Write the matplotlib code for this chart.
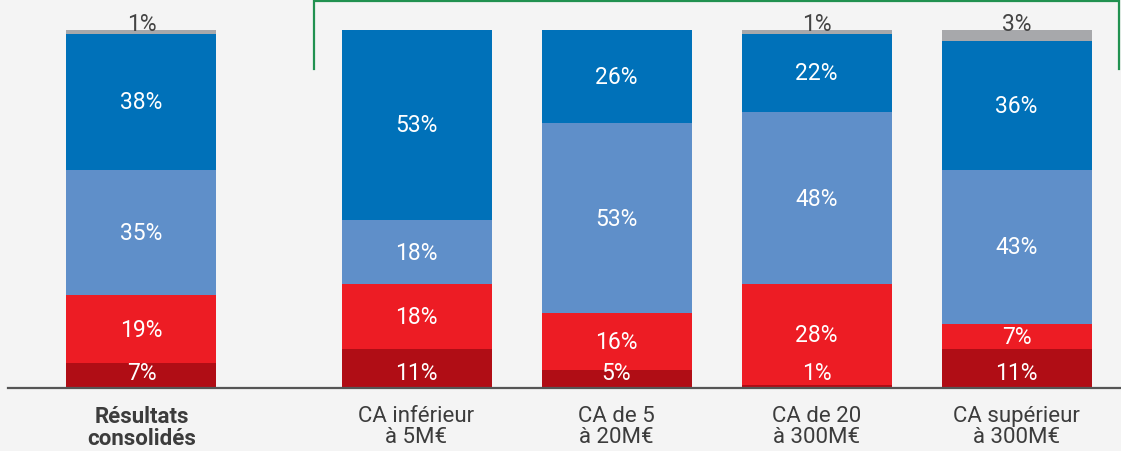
import matplotlib
matplotlib.use("Agg")
import matplotlib.pyplot as plt
import numpy as np

categories = ["Résultats\nconsolidés", "CA inférieur\nà 5M€", "CA de 5\nà 20M€",
              "CA de 20\nà 300M€", "CA supérieur\nà 300M€"]
# stacked segments, bottom to top
seg_darkred = [7, 11, 5, 1, 11]
seg_red = [19, 18, 16, 28, 7]
seg_lightblue = [35, 18, 53, 48, 43]
seg_blue = [38, 53, 26, 22, 36]
seg_gray = [1, 0, 0, 1, 3]

series = [seg_darkred, seg_red, seg_lightblue, seg_blue, seg_gray]
colors = ["#b00d15", "#ed1c24", "#5f8fc9", "#0071b9", "#a7a8ab"]

BG = "#f4f4f4"
W, H = 1121, 452
fig = plt.figure(figsize=(W / 100, H / 100), dpi=100, facecolor=BG)
base_px = 389.3
ax = fig.add_axes([0, (H - base_px) / H, 1, base_px / H])
ax.set_facecolor(BG)
for s in ax.spines.values():
    s.set_visible(False)

px_per_unit = 358.3 / 100.0
x = np.array([0, 1.375, 2.375, 3.375, 4.375])
width = 0.75
ax.set_xlim(-141.5 / 200, (W - 141.5) / 200)
ax.set_ylim(0, base_px / px_per_unit)

font = ["Roboto", "DejaVu Sans"]
vsize = 16.5

bottom = np.zeros(len(x))
for si, (vals, col) in enumerate(zip(series, colors)):
    vals = np.array(vals, dtype=float)
    ax.bar(x, vals, width, bottom=bottom, color=col, linewidth=0, zorder=2)
    for i, v in enumerate(vals):
        if v <= 0:
            continue
        if si == len(series) - 1:
            ax.text(x[i], 101.8, f"{int(v)}%", ha="center", va="center",
                    color="#444444", fontsize=vsize, family=font, zorder=3)
        elif si == 0:
            ax.text(x[i], 4.3, f"{int(v)}%", ha="center", va="center",
                    color="white", fontsize=vsize, family=font, zorder=3)
        else:
            ax.text(x[i], bottom[i] + v / 2, f"{int(v)}%", ha="center", va="center",
                    color="white", fontsize=vsize, family=font, zorder=3)
    bottom += vals

# baseline
ax.axhline(0, xmin=8 / W, xmax=1, color="#555555", lw=1.6, zorder=4, clip_on=False)

# category labels
ax.set_xticks(x)
ax.set_xticklabels(categories)
ax.tick_params(axis="x", length=0, pad=12, colors="#3c3c3c")
ax.tick_params(axis="y", left=False, labelleft=False)
for i, lab in enumerate(ax.get_xticklabels()):
    lab.set_family(font)
    lab.set_fontsize(16)
    lab.set_linespacing(0.98)
    if i == 0:
        lab.set_fontweight("bold")

# green bracket above the size groups
y_top = (base_px - 1.7) / px_per_unit
y_bot = (base_px - 69.5) / px_per_unit
xl = (314.3 - 141.5) / 200
xr = (1119 - 141.5) / 200
ax.plot([xl, xl, xr, xr], [y_bot, y_top, y_top, y_bot], color="#219150",
        lw=1.6, solid_joinstyle="miter", clip_on=False, zorder=1)

fig.savefig("out.png", dpi=100, facecolor=BG)
